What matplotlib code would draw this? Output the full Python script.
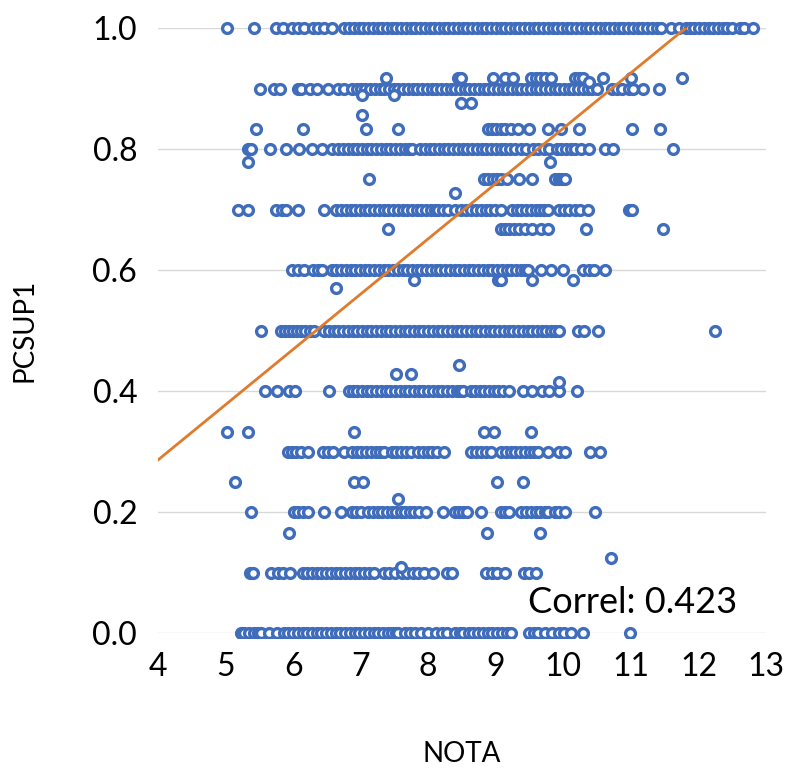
import matplotlib
matplotlib.use("Agg")
import matplotlib.pyplot as plt
from matplotlib.patches import Rectangle
import numpy as np

plt.rcParams['font.family'] = ['Lato', 'DejaVu Sans']

# ---- data (NOTA on x, PCSUP1 on y) ----
x_y100 = [5.02, 5.42, 5.75, 5.85, 5.98, 6.07, 6.16, 6.29, 6.37, 6.46, 6.57,
          6.76, 6.83, 6.9, 6.97, 7.04, 7.11, 7.18, 7.25, 7.32, 7.39, 7.46, 7.53, 7.6, 7.67, 7.74,
          7.81, 7.88, 7.95, 8.02, 8.09, 8.16, 8.23, 8.3, 8.37, 8.44, 8.51, 8.58, 8.65, 8.72, 8.79,
          8.86, 8.93, 9.0, 9.07, 9.14, 9.21, 9.28, 9.35, 9.42, 9.49, 9.56, 9.63, 9.7, 9.77, 9.84,
          9.91, 9.98, 10.05, 10.12, 10.19, 10.26, 10.33, 10.4, 10.47, 10.54, 10.61, 10.68, 10.75,
          10.82, 10.89, 10.96, 11.03, 11.1, 11.17, 11.24, 11.31, 11.38, 11.45, 11.6, 11.71, 11.81,
          11.87, 11.94, 12.01, 12.08, 12.15, 12.22, 12.29, 12.36, 12.43, 12.5, 12.61, 12.68, 12.81]
x_y092 = [7.38, 8.44, 8.48, 8.96, 9.13, 9.26, 9.52, 9.59, 9.66, 9.73, 9.82, 10.17, 10.23, 10.29,
          10.59, 11.0, 11.75]
x_y090 = [5.51, 5.72, 5.81, 6.07, 6.11, 6.25, 6.35, 6.52, 6.67, 6.76, 6.87, 6.94, 7.0, 7.07, 7.14,
          7.21, 7.28, 7.35, 7.42, 7.49, 7.56, 7.63, 7.7, 7.77, 7.84, 7.91, 7.98, 8.05, 8.12, 8.19,
          8.26, 8.33, 8.4, 8.47, 8.54, 8.61, 8.68, 8.75, 8.82, 8.89, 8.96, 9.03, 9.1, 9.17, 9.24,
          9.31, 9.38, 9.45, 9.52, 9.59, 9.66, 9.73, 9.8, 9.87, 9.94, 10.01, 10.08, 10.15, 10.22,
          10.29, 10.36, 10.43, 10.5, 10.72, 10.79, 10.87, 10.97, 11.03, 11.18, 11.41]
x_y083 = [5.45, 6.14, 7.08, 7.56, 8.89, 8.94, 9.01, 9.08, 9.14, 9.22, 9.33, 9.49, 9.78, 9.97, 10.23,
          11.02, 11.43]
x_y080 = [5.33, 5.38, 5.66, 5.9, 6.08, 6.28, 6.43, 6.58, 6.67, 6.74, 6.81, 6.88, 6.95, 7.02, 7.09,
          7.16, 7.23, 7.3, 7.37, 7.44, 7.51, 7.58, 7.65, 7.72, 7.76, 7.88, 7.95, 8.02, 8.09, 8.16,
          8.23, 8.3, 8.37, 8.44, 8.51, 8.58, 8.65, 8.72, 8.79, 8.86, 8.93, 9.0, 9.07, 9.14, 9.21,
          9.28, 9.38, 9.45, 9.55, 9.63, 9.71, 9.79, 9.9, 9.97, 10.04, 10.11, 10.18, 10.26, 10.38,
          10.61, 10.74, 11.63]
x_y075 = [7.13, 8.83, 8.89, 8.96, 9.02, 9.08, 9.16, 9.35, 9.53, 9.87, 9.93, 9.98, 10.02]
x_y070 = [5.19, 5.33, 5.75, 5.83, 5.9, 6.07, 6.46, 6.64, 6.71, 6.78, 6.85, 6.92, 6.99, 7.06, 7.13,
          7.2, 7.27, 7.34, 7.41, 7.48, 7.55, 7.62, 7.69, 7.76, 7.83, 7.9, 7.97, 8.04, 8.1, 8.15,
          8.22, 8.3, 8.4, 8.49, 8.56, 8.64, 8.71, 8.78, 8.85, 8.92, 8.99, 9.08, 9.24, 9.31, 9.38,
          9.45, 9.52, 9.59, 9.66, 9.72, 9.78, 9.93, 10.01, 10.08, 10.18, 10.25, 10.37, 10.97, 11.02]
x_y067 = [7.41, 9.08, 9.14, 9.2, 9.27, 9.35, 9.43, 9.53, 9.67, 9.78, 10.34, 11.47]
x_y060 = [5.98, 6.07, 6.16, 6.29, 6.37, 6.43, 6.57, 6.64, 6.71, 6.78, 6.85, 6.92, 6.99, 7.06, 7.13,
          7.2, 7.27, 7.34, 7.41, 7.48, 7.55, 7.62, 7.69, 7.76, 7.83, 7.9, 7.97, 8.04, 8.11, 8.18,
          8.25, 8.32, 8.39, 8.46, 8.53, 8.6, 8.67, 8.74, 8.81, 8.88, 8.95, 9.02, 9.09, 9.16, 9.23,
          9.3, 9.37, 9.43, 9.48, 9.67, 9.82, 9.99, 10.29, 10.38, 10.46, 10.61]
x_y050 = [5.53, 5.82, 5.88, 5.94, 6.0, 6.06, 6.12, 6.18, 6.25, 6.31, 6.46, 6.53, 6.6, 6.67, 6.74,
          6.81, 6.88, 6.95, 7.02, 7.09, 7.16, 7.23, 7.3, 7.37, 7.44, 7.51, 7.58, 7.65, 7.72, 7.79,
          7.86, 7.93, 8.0, 8.07, 8.14, 8.21, 8.28, 8.35, 8.42, 8.49, 8.56, 8.63, 8.7, 8.77, 8.84,
          8.91, 8.98, 9.05, 9.12, 9.19, 9.26, 9.33, 9.4, 9.47, 9.54, 9.61, 9.68, 9.75, 9.82, 9.88,
          9.93, 10.22, 10.31, 10.52, 12.24]
x_y040 = [5.58, 5.76, 5.94, 6.03, 6.53, 6.83, 6.89, 6.95, 7.02, 7.09, 7.16, 7.23, 7.3, 7.37, 7.44,
          7.51, 7.58, 7.65, 7.72, 7.79, 7.86, 7.93, 8.0, 8.07, 8.14, 8.21, 8.28, 8.35, 8.42, 8.47,
          8.52, 8.64, 8.69, 8.76, 8.83, 8.9, 8.97, 9.04, 9.11, 9.19, 9.4, 9.53, 9.69, 9.79, 9.93, 10.2]
x_y033 = [5.02, 5.33, 6.9, 8.83, 8.98, 9.52]
x_y030 = [5.93, 5.98, 6.05, 6.12, 6.22, 6.44, 6.52, 6.59, 6.76, 6.87, 6.94, 7.01, 7.08, 7.15, 7.22,
          7.29, 7.35, 7.46, 7.53, 7.6, 7.67, 7.74, 7.85, 7.92, 7.99, 8.06, 8.13, 8.24, 8.63, 8.7,
          8.78, 8.86, 8.93, 9.08, 9.15, 9.22, 9.29, 9.36, 9.43, 9.5, 9.57, 9.63, 9.78, 9.94, 10.02,
          10.4, 10.55]
x_y025 = [5.14, 6.9, 7.03, 9.02, 9.4]
x_y020 = [5.38, 6.02, 6.07, 6.14, 6.22, 6.46, 6.71, 6.87, 6.93, 7.01, 7.11, 7.18, 7.25, 7.32, 7.39,
          7.46, 7.53, 7.6, 7.65, 7.73, 7.79, 7.87, 7.97, 8.22, 8.39, 8.45, 8.52, 8.58, 8.78, 9.08,
          9.14, 9.2, 9.38, 9.45, 9.52, 9.59, 9.66, 9.73, 9.78, 9.87, 9.94, 10.03, 10.47]
x_y010 = [5.36, 5.4, 5.68, 5.78, 5.85, 5.96, 6.14, 6.21, 6.28, 6.35, 6.42, 6.49, 6.56, 6.63, 6.7,
          6.77, 6.84, 6.91, 6.98, 7.05, 7.12, 7.2, 7.35, 7.42, 7.51, 7.61, 7.68, 7.77, 7.85, 7.94,
          8.07, 8.28, 8.35, 8.86, 8.94, 9.02, 9.13, 9.42, 9.49, 9.6]
x_y000 = [5.23, 5.28, 5.35, 5.42, 5.48, 5.53, 5.64, 5.76, 5.87, 5.93, 6.0, 6.07, 6.14, 6.21, 6.28,
          6.35, 6.42, 6.49, 6.56, 6.63, 6.7, 6.77, 6.84, 6.91, 6.98, 7.05, 7.12, 7.19, 7.26, 7.33,
          7.4, 7.47, 7.52, 7.56, 7.65, 7.73, 7.8, 7.9, 8.0, 8.12, 8.2, 8.28, 8.4, 8.47, 8.52, 8.6,
          8.67, 8.74, 8.81, 8.88, 8.95, 9.02, 9.09, 9.16, 9.23, 9.49, 9.56, 9.63, 9.73, 9.83, 9.93,
          10.01, 10.11, 10.29, 10.99]

row_levels = [1.0, 0.917, 0.9, 0.833, 0.8, 0.75, 0.7, 0.667, 0.6, 0.5, 0.4, 0.333, 0.3, 0.25, 0.2, 0.1, 0.0]
row_xs = [x_y100, x_y092, x_y090, x_y083, x_y080, x_y075, x_y070, x_y067, x_y060, x_y050, x_y040,
          x_y033, x_y030, x_y025, x_y020, x_y010, x_y000]

# isolated points between the main levels
extra_x = [7.02, 7.5, 8.49, 8.63, 10.38, 7.02, 5.33, 9.81, 8.39, 7.79, 9.04, 9.08, 9.53, 10.14, 6.64,
           8.45, 7.53, 7.75, 9.93, 7.56, 5.94, 8.87, 9.66, 10.7, 7.59]
extra_y = [0.889, 0.889, 0.876, 0.876, 0.911, 0.857, 0.778, 0.778, 0.727, 0.583, 0.583, 0.583, 0.583,
           0.583, 0.57, 0.443, 0.428, 0.428, 0.415, 0.221, 0.165, 0.165, 0.165, 0.124, 0.109]

trend_slope = 0.0914
trend_intercept = -0.0796
correl_text = "Correl: 0.423"

x_ticks = [4, 5, 6, 7, 8, 9, 10, 11, 12, 13]
y_ticks = [0.0, 0.2, 0.4, 0.6, 0.8, 1.0]
y_tick_labels = ["0.0", "0.2", "0.4", "0.6", "0.8", "1.0"]

# ---- assemble ----
xs, ys = [], []
for lvl, xl in zip(row_levels, row_xs):
    xs.extend(xl)
    ys.extend([lvl] * len(xl))
xs.extend(extra_x)
ys.extend(extra_y)

W, H = 789, 770
fig = plt.figure(figsize=(W / 100, H / 100), dpi=100)
ax = fig.add_axes([158 / W, (H - 633) / H, 608 / W, 605 / H])

ax.set_xlim(4, 13)
ax.set_ylim(0, 1)

blue = '#3F6DBC'
sc = ax.scatter(xs, ys, s=50, facecolors='white', edgecolors=blue, linewidths=2.4, zorder=3)
clip = Rectangle((4, -0.008), 9.2, 1.1, transform=ax.transData)
sc.set_clip_path(clip)

tx = np.array([4.0, 13.0])
ax.plot(tx, trend_intercept + trend_slope * tx, color='#E07B2E', lw=2.0, zorder=4)

ax.set_xticks(x_ticks)
ax.set_xticklabels([str(t) for t in x_ticks])
ax.set_yticks(y_ticks)
ax.set_yticklabels(y_tick_labels)
ax.tick_params(axis='both', length=0, labelsize=23, colors='black')
ax.tick_params(axis='y', pad=15)
ax.tick_params(axis='x', pad=14)
ax.yaxis.grid(True, color='#D9D9D9', lw=1.0, zorder=0)
ax.xaxis.grid(False)
for s in ax.spines.values():
    s.set_visible(False)
ax.set_axisbelow(True)

ax.set_xlabel("NOTA", fontsize=20)
ax.set_ylabel("PCSUP1", fontsize=20)
ax.xaxis.label.set_verticalalignment('center')
ax.yaxis.label.set_verticalalignment('center')
ax.xaxis.set_label_coords(0.5, -0.2)
ax.yaxis.set_label_coords(-0.219, 0.5)

ax.text(9.48, 0.033, correl_text, fontsize=26, ha='left', va='baseline', zorder=5)

fig.savefig("out.png", dpi=100)
